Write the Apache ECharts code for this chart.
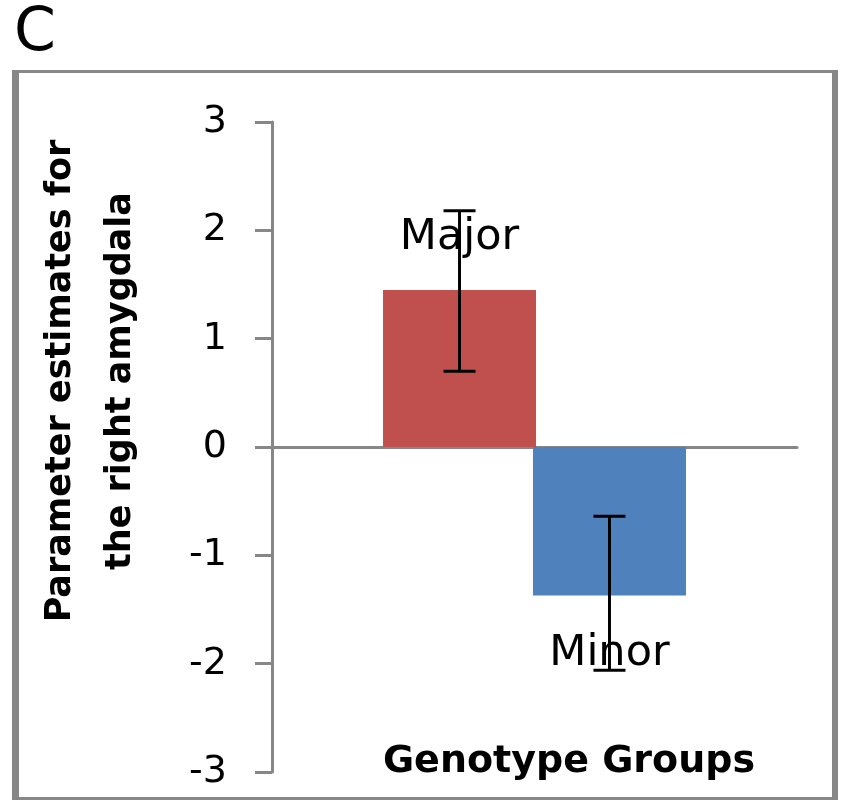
<!DOCTYPE html>
<html>
<head>
<meta charset="utf-8">
<script src="https://cdn.jsdelivr.net/npm/echarts@6/dist/echarts.min.js"></script>
<style>
  html, body { margin: 0; padding: 0; background: #fff; }
  #chart { width: 841px; height: 800px; }
</style>
</head>
<body>
<div id="chart"></div>
<script>
// ---- data ----
const panelLabel = 'C';
const categories = ['Genotype Groups'];
const groups = ['Major', 'Minor'];
const estimates = [1.45, -1.37];
const errLow = [0.70, -2.06];
const errHigh = [2.18, -0.64];
const yMin = -3;
const yMax = 3;
const yStep = 1;
const yTitle = 'Parameter estimates for\nthe right amygdala';
const xTitle = 'Genotype Groups';

// ---- styling ----
const FONT = 'DejaVu Sans';
const GRAY = '#878787';
const BAR_W = 153;
const BAR_GAP = -0.02;
const colors = ['#C0504D', '#4F81BD'];
const labelSide = ['top', 'bottom'];
const labelDist = [31, 37];

const barSeries = groups.map((g, i) => ({
  name: g,
  type: 'bar',
  barWidth: BAR_W,
  barGap: (BAR_GAP * 100) + '%',
  z: 2,
  itemStyle: { color: colors[i] },
  label: {
    show: true,
    position: labelSide[i],
    distance: labelDist[i],
    formatter: g,
    color: '#000',
    fontFamily: FONT,
    fontSize: 43
  },
  data: [estimates[i]]
}));

const errSeries = {
  type: 'custom',
  z: 5,
  encode: { x: 0, y: [1, 2] },
  data: groups.map((g, i) => [0, errLow[i], errHigh[i], i]),
  renderItem: function (params, api) {
    const n = groups.length;
    const cx = api.coord([api.value(0), 0])[0];
    const step = BAR_W * (1 + BAR_GAP);
    const x = cx + (api.value(3) - (n - 1) / 2) * step;
    const yLo = api.coord([api.value(0), api.value(1)])[1];
    const yHi = api.coord([api.value(0), api.value(2)])[1];
    const cap = 16;
    const st = { stroke: '#000', lineWidth: 3 };
    return {
      type: 'group',
      children: [
        { type: 'line', shape: { x1: x, y1: yLo, x2: x, y2: yHi }, style: st },
        { type: 'line', shape: { x1: x - cap, y1: yLo, x2: x + cap, y2: yLo }, style: st },
        { type: 'line', shape: { x1: x - cap, y1: yHi, x2: x + cap, y2: yHi }, style: st }
      ]
    };
  }
};

const chart = echarts.init(document.getElementById('chart'), null, { renderer: 'canvas' });
chart.setOption({
  animation: false,
  backgroundColor: '#fff',
  grid: { left: 272, right: 44, top: 122, bottom: 28, containLabel: false },
  xAxis: {
    type: 'category',
    data: categories,
    axisLine: { onZero: true, lineStyle: { color: GRAY, width: 3 } },
    axisTick: { show: false },
    axisLabel: { show: false },
    splitLine: { show: false }
  },
  yAxis: {
    type: 'value',
    min: yMin,
    max: yMax,
    interval: yStep,
    axisLine: { show: true, lineStyle: { color: GRAY, width: 3 } },
    axisTick: { show: true, length: 17, lineStyle: { color: GRAY, width: 3 } },
    axisLabel: { color: '#000', fontFamily: FONT, fontSize: 38, margin: 45 },
    splitLine: { show: false }
  },
  graphic: [
    { type: 'rect', shape: { x: 12, y: 70, width: 7, height: 730 }, style: { fill: GRAY }, silent: true },
    { type: 'rect', shape: { x: 12, y: 70, width: 826, height: 3 }, style: { fill: GRAY }, silent: true },
    { type: 'rect', shape: { x: 832, y: 70, width: 6, height: 730 }, style: { fill: GRAY }, silent: true },
    { type: 'rect', shape: { x: 12, y: 797, width: 826, height: 3 }, style: { fill: GRAY }, silent: true },
    {
      type: 'text', x: 14, y: 34,
      style: { text: panelLabel, font: '60px "DejaVu Sans"', fill: '#000', textAlign: 'left', textVerticalAlign: 'middle', align: 'left', verticalAlign: 'middle' }
    },
    {
      type: 'text', x: 91, y: 381, rotation: Math.PI / 2,
      style: { text: yTitle, font: 'bold 35px "DejaVu Sans"', lineHeight: 60, fill: '#000', textAlign: 'center', textVerticalAlign: 'middle', align: 'center', verticalAlign: 'middle' }
    },
    {
      type: 'text', x: 569, y: 762,
      style: { text: xTitle, font: 'bold 38px "DejaVu Sans"', fill: '#000', textAlign: 'center', textVerticalAlign: 'middle', align: 'center', verticalAlign: 'middle' }
    }
  ],
  series: barSeries.concat([errSeries])
});
</script>
</body>
</html>
